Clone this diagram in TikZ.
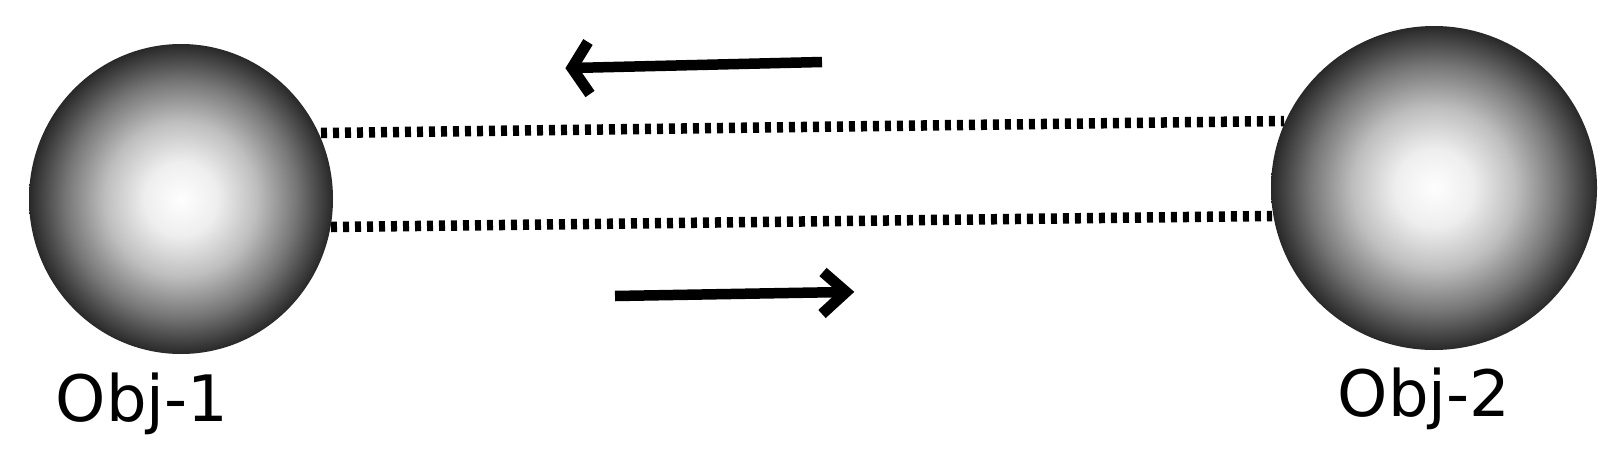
\documentclass[tikz,border=0pt]{standalone}
\usepackage{fontspec}
\setmainfont{DejaVu Sans}
\usetikzlibrary{shapes.geometric}
\definecolor{shA}{HTML}{FEFEFE}
\definecolor{shB}{HTML}{EEEEEE}
\definecolor{shC}{HTML}{BEBEBE}
\definecolor{shD}{HTML}{767676}
\definecolor{shE}{HTML}{282828}
\pgfdeclareradialshading{sphshade}{\pgfpoint{0bp}{0bp}}{%
  color(0bp)=(shA);
  color(6bp)=(shB);
  color(12.5bp)=(shC);
  color(19bp)=(shD);
  color(25bp)=(shE);
  color(50bp)=(shE)}
\tikzset{
  sphere/.style={shape=ellipse, inner sep=0pt, shading=sphshade},
  link/.style={line width=10.5pt, dash pattern=on 6pt off 6pt},
  arrline/.style={line width=10.5pt, line cap=butt},
  arrhead/.style={line width=11pt, line cap=butt, miter limit=20},
  lbl/.style={font=\fontsize{64}{70}\selectfont, anchor=base, inner sep=0pt}
}
\begin{document}
\begin{tikzpicture}[x=1pt, y=-1pt]
\useasboundingbox (0,0) rectangle (1624,458);
% dotted links
\coordinate (l1a) at (321,133);
\coordinate (l1b) at (1284,121);
\coordinate (l2a) at (331,227);
\coordinate (l2b) at (1272,216);
\draw[link] (l1a) -- (l1b);
\draw[link] (l2a) -- (l2b);
% spheres
\node[sphere, minimum width=304pt, minimum height=310pt] (s1) at (181,199) {};
\node[sphere, minimum width=326pt, minimum height=324pt] (s2) at (1434,188) {};
% labels
\node[lbl] (t1) at (142,421) {Obj-1};
\node[lbl] (t2) at (1424,416) {Obj-2};
% top arrow (pointing left)
\coordinate (a1t) at (822,62);
\coordinate (a1v) at (572,68);
\coordinate (a1u) at (588,42);
\coordinate (a1d) at (590,94);
\draw[arrline] (a1t) -- (a1v);
\draw[arrhead] (a1u) -- (a1v) -- (a1d);
% bottom arrow (pointing right)
\coordinate (a2t) at (615,296);
\coordinate (a2v) at (846,292);
\coordinate (a2u) at (823,272);
\coordinate (a2d) at (822,314);
\draw[arrline] (a2t) -- (a2v);
\draw[arrhead] (a2u) -- (a2v) -- (a2d);
\end{tikzpicture}
\end{document}
